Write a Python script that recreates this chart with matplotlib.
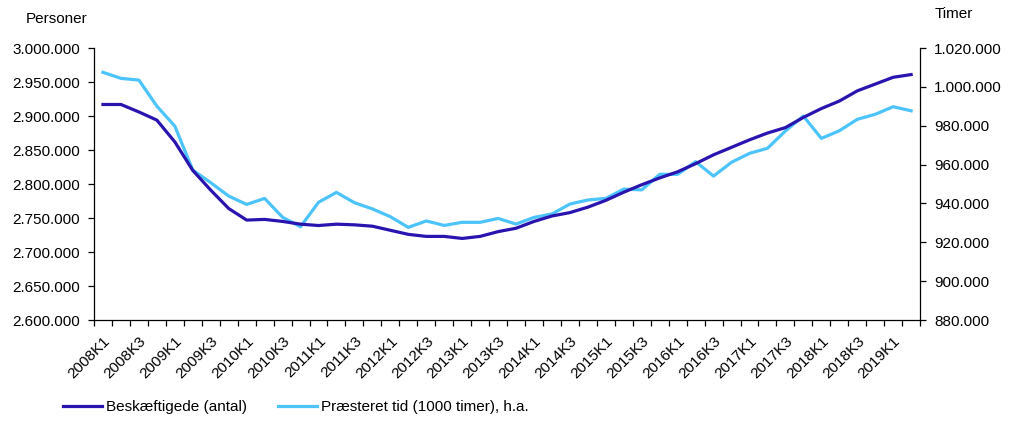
import matplotlib.pyplot as plt
import numpy as np
from matplotlib.ticker import FuncFormatter, FixedLocator

plt.rcParams['font.family'] = ['Liberation Sans', 'DejaVu Sans']

# kvartaler 2008K1 - 2019K2
quarters = [f'{y}K{q}' for y in range(2008, 2020) for q in range(1, 5)][:46]

# Beskæftigede (antal), venstre akse
employed = [
    2917000, 2917000, 2906000, 2894000, 2862000, 2820000, 2791000, 2764000,
    2747000, 2748000, 2745000, 2741000, 2739000, 2741000, 2740000, 2738000,
    2732000, 2726000, 2723000, 2723000, 2720000, 2723000, 2730000, 2735000,
    2745000, 2753000, 2758000, 2766000, 2776000, 2788000, 2799000, 2809000,
    2818000, 2830000, 2843000, 2854000, 2865000, 2875000, 2883000, 2898000,
    2911000, 2922000, 2937000, 2947000, 2957000, 2961000,
]

# Præsteret tid (1000 timer), højre akse
hours = [
    1007500, 1004400, 1003500, 990100, 979800, 957200, 950700, 943800,
    939500, 942600, 932900, 928000, 940600, 945700, 940400, 937200,
    933200, 927700, 931000, 928700, 930300, 930300, 932300, 929400,
    932800, 934600, 939700, 941800, 942600, 947400, 947000, 955000,
    955000, 961500, 954100, 961200, 965800, 968400, 977300, 985000,
    973500, 977400, 983300, 985900, 989800, 987700,
]

dark = '#2a14b0'
light = '#4cc4fb'


def dk_fmt(v, pos):
    return f'{v:,.0f}'.replace(',', '.')


fig = plt.figure(figsize=(10.13, 4.29), dpi=100)
ax = fig.add_axes([0.0928, 0.254, 0.8155, 0.634])
ax2 = ax.twinx()

x = np.arange(len(quarters))
l1, = ax.plot(x, employed, color=dark, lw=2.3, label='Beskæftigede (antal)', zorder=3)
l2, = ax2.plot(x, hours, color=light, lw=2.3, label='Præsteret tid (1000 timer), h.a.', zorder=2)
ax.set_zorder(ax2.get_zorder() + 1)
ax.patch.set_visible(False)

ax.set_xlim(-0.5, len(quarters) - 0.5)
ax.set_ylim(2600000, 3000000)
ax.set_yticks(np.arange(2600000, 3000001, 50000))
ax2.set_ylim(880000, 1020000)
ax2.set_yticks(np.arange(880000, 1020001, 20000))
ax.yaxis.set_major_formatter(FuncFormatter(dk_fmt))
ax2.yaxis.set_major_formatter(FuncFormatter(dk_fmt))

ax.set_xticks(x[::2])
ax.set_xticklabels(quarters[::2], rotation=45, ha='right', rotation_mode='anchor')
ax.xaxis.set_minor_locator(FixedLocator(np.arange(-0.5, len(quarters), 1)))
ax.tick_params(axis='x', which='major', length=0, pad=10, labelsize=11)
ax.tick_params(axis='x', which='minor', length=4, width=0.9)
ax.tick_params(axis='y', length=4, width=0.9, pad=6, labelsize=11)
ax2.tick_params(axis='y', length=4, width=0.9, pad=6, labelsize=11)

for a in (ax, ax2):
    a.spines['top'].set_visible(False)
    for s in ('left', 'right', 'bottom'):
        a.spines[s].set_linewidth(0.9)
ax.spines['right'].set_visible(False)
ax2.spines['left'].set_visible(False)
ax2.spines['bottom'].set_visible(False)

fig.text(26 / 1013, 1 - 19 / 429, 'Personer', fontsize=11, va='center', ha='left')
fig.text(935 / 1013, 1 - 14 / 429, 'Timer', fontsize=11, va='center', ha='left')

fig.legend(handles=[l1, l2], loc='center left', bbox_to_anchor=(0.056, 0.051),
           ncol=2, frameon=False, fontsize=11, handlelength=2.55,
           handletextpad=0.3, columnspacing=2.0, borderaxespad=0)

fig.savefig('out.png', dpi=100)
